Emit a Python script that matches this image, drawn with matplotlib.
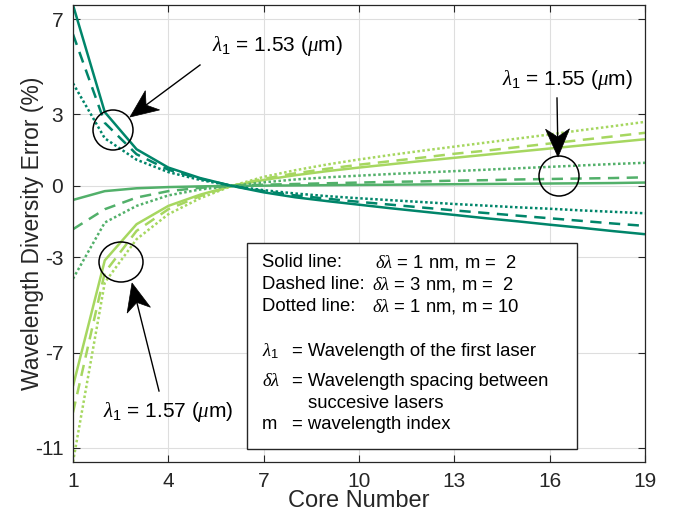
import matplotlib
matplotlib.use("Agg")
import matplotlib.pyplot as plt
import numpy as np
from matplotlib.patches import Ellipse, Polygon, Rectangle

plt.rcParams['font.family'] = ['Liberation Sans', 'DejaVu Sans']
plt.rcParams['mathtext.fontset'] = 'custom'
plt.rcParams['mathtext.rm'] = 'Liberation Sans'
plt.rcParams['mathtext.it'] = 'Liberation Serif:italic'
plt.rcParams['axes.unicode_minus'] = False

# core index along the fibre
cores = list(range(1, 20))

# lambda_1 = 1.53 um
err_153_solid = [7.6, 3.1, 1.54, 0.77, 0.33, 0.0, -0.27, -0.48, -0.64, -0.79,
                 -0.94, -1.08, -1.22, -1.36, -1.49, -1.63, -1.76, -1.90, -2.03]
err_153_dash = [6.37, 2.65, 1.33, 0.68, 0.30, 0.0, -0.22, -0.40, -0.54, -0.67,
                -0.79, -0.91, -1.03, -1.14, -1.25, -1.36, -1.47, -1.58, -1.68]
err_153_dot = [4.31, 2.0, 1.10, 0.58, 0.25, 0.0, -0.18, -0.32, -0.43, -0.52,
               -0.60, -0.68, -0.76, -0.83, -0.90, -0.96, -1.03, -1.09, -1.15]

# lambda_1 = 1.55 um
err_155_solid = [-0.59, -0.22, -0.10, -0.05, -0.02, 0.0, 0.01, 0.02, 0.03, 0.04,
                 0.05, 0.06, 0.07, 0.08, 0.09, 0.10, 0.11, 0.12, 0.14]
err_155_dash = [-1.82, -0.98, -0.49, -0.22, -0.08, 0.0, 0.05, 0.08, 0.11, 0.14,
                0.17, 0.19, 0.22, 0.24, 0.27, 0.29, 0.31, 0.33, 0.36]
err_155_dot = [-3.9, -1.54, -0.84, -0.40, -0.15, 0.0, 0.15, 0.27, 0.36, 0.43,
               0.50, 0.56, 0.62, 0.68, 0.74, 0.80, 0.86, 0.92, 0.97]

# lambda_1 = 1.57 um
err_157_solid = [-8.41, -3.13, -1.61, -0.84, -0.37, 0.0, 0.25, 0.45, 0.62, 0.77,
                 0.91, 1.05, 1.18, 1.31, 1.44, 1.57, 1.70, 1.83, 1.96]
err_157_dash = [-9.52, -3.64, -1.89, -0.98, -0.43, 0.0, 0.30, 0.53, 0.72, 0.89,
                1.04, 1.19, 1.35, 1.48, 1.63, 1.78, 1.93, 2.08, 2.23]
err_157_dot = [-11.6, -4.06, -2.24, -1.19, -0.52, 0.0, 0.38, 0.66, 0.90, 1.11,
               1.30, 1.48, 1.65, 1.82, 1.99, 2.16, 2.34, 2.51, 2.69]

xticks = [1, 4, 7, 10, 13, 16, 19]
yticks = [-11, -7, -3, 0, 3, 7]

c153 = '#00856a'
c155 = '#52b06a'
c157 = '#a6d760'

solid = '-'
dashed = (0, (4.5, 3.0))
dotted = (0, (1, 1))

W, H = 674, 516
fig = plt.figure(figsize=(W / 100, H / 100), dpi=100)
ax = fig.add_axes([73 / W, 1 - 462 / H, (645 - 73) / W, (462 - 5) / H])

series = [
    (err_157_solid, c157, solid), (err_157_dash, c157, dashed), (err_157_dot, c157, dotted),
    (err_155_solid, c155, solid), (err_155_dash, c155, dashed), (err_155_dot, c155, dotted),
    (err_153_solid, c153, solid), (err_153_dash, c153, dashed), (err_153_dot, c153, dotted),
]
for vals, col, ls in series:
    ax.plot(cores, vals, color=col, linestyle=ls, linewidth=1.8,
            dash_capstyle='butt', solid_capstyle='butt')

ax.set_xlim(1, 19)
ax.set_ylim(min(err_157_dot), max(err_153_solid))
ax.set_xticks(xticks)
ax.set_yticks(yticks)
ax.grid(True, color='#dedede', linewidth=0.8)
ax.set_axisbelow(True)
ax.tick_params(direction='in', top=True, right=True, length=5, width=0.8,
               color='#262626', labelsize=15, labelcolor='#262626', pad=7)
for sp in ax.spines.values():
    sp.set_color('#262626')
    sp.set_linewidth(0.9)
ax.set_xlabel('Core Number', fontsize=17, color='#262626')
ax.set_ylabel('Wavelength Diversity Error (%)', fontsize=16.5, color='#262626')
ax.xaxis.set_label_coords(0.5, -0.062)
ax.yaxis.set_label_coords(-0.05, 0.5)


def px2data(px, py):
    # figure pixel (from top-left) -> data coordinates
    disp = np.array([px, H - py])
    return ax.transData.inverted().transform(disp)


def circle(px, py, rx, ry):
    x0, y0 = px2data(px - rx, py + ry)
    x1, y1 = px2data(px + rx, py - ry)
    ax.add_patch(Ellipse(((x0 + x1) / 2, (y0 + y1) / 2), x1 - x0, y1 - y0,
                         fill=False, edgecolor='black', linewidth=1.1, zorder=5))


def arrow(tail, tip, head_len=28, head_w=24, notch=8):
    p0 = np.array([tail[0], H - tail[1]], float)
    p1 = np.array([tip[0], H - tip[1]], float)
    u = (p1 - p0) / np.linalg.norm(p1 - p0)
    n = np.array([-u[1], u[0]])
    base = p1 - u * head_len
    back = p1 - u * (head_len - notch)
    inv = ax.transData.inverted()
    line = inv.transform(np.array([p0, back]))
    ax.plot(line[:, 0], line[:, 1], color='black', linewidth=1.0, zorder=6)
    pts = inv.transform(np.array([p1, base + n * head_w / 2, back, base - n * head_w / 2]))
    ax.add_patch(Polygon(pts, closed=True, facecolor='black', edgecolor='black',
                         linewidth=0.5, zorder=6))


circle(113, 130, 20, 20)
circle(121, 262, 22, 20)
circle(559, 176, 20, 20)
arrow((200, 65), (130, 117))
arrow((159, 391), (132, 283))
arrow((557, 98), (558, 157))

for px, py, txt in [(212, 51, r'$\lambda_1$ = 1.53 ($\mu$m)'),
                    (103, 417, r'$\lambda_1$ = 1.57 ($\mu$m)'),
                    (502, 85, r'$\lambda_1$ = 1.55 ($\mu$m)')]:
    x, y = px2data(px, py)
    ax.text(x, y, txt, fontsize=15, va='baseline', ha='left', zorder=7)

# description box
fig.patches.append(Rectangle((247 / W, 1 - 449 / H), (577 - 247) / W, (449 - 243) / H,
                             transform=fig.transFigure, facecolor='white',
                             edgecolor='#262626', linewidth=1.0, zorder=8))


def ftext(px, py, s):
    fig.text(px / W, 1 - py / H, s, fontsize=13.3, va='baseline', ha='left', zorder=9)


ftext(262, 267, 'Solid line:')
ftext(375, 267, r'$\delta\lambda$ = 1 nm, m =  2')
ftext(262, 289, 'Dashed line:')
ftext(372, 289, r'$\delta\lambda$ = 3 nm, m =  2')
ftext(262, 311, 'Dotted line:')
ftext(372, 311, r'$\delta\lambda$ = 1 nm, m = 10')
ftext(262, 356, r'$\lambda_1$')
ftext(292, 356, '= Wavelength of the first laser')
ftext(262, 386, r'$\delta\lambda$')
ftext(292, 386, '= Wavelength spacing between')
ftext(308, 408, 'succesive lasers')
ftext(262, 429, 'm')
ftext(292, 429, '= wavelength index')

fig.savefig('out.png', dpi=100)
